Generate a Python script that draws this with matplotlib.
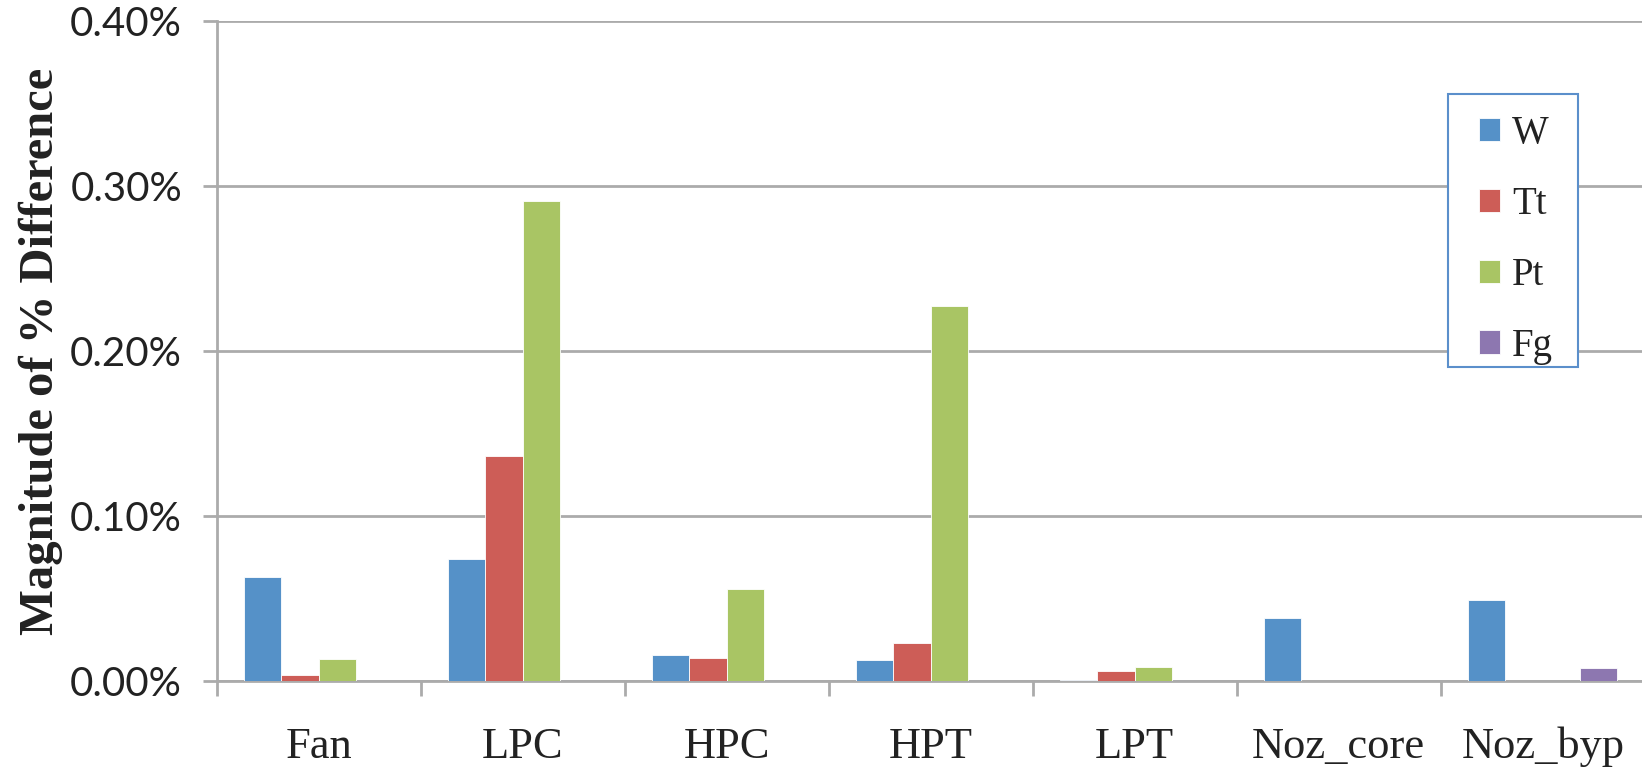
import matplotlib
matplotlib.use("Agg")
import matplotlib.pyplot as plt
import numpy as np
from matplotlib.patches import Rectangle
from matplotlib.ticker import FuncFormatter

# values are % difference magnitudes
categories = ["Fan", "LPC", "HPC", "HPT", "LPT", "Noz_core", "Noz_byp"]
series_names = ["W", "Tt", "Pt", "Fg"]
w_vals = [0.063, 0.0736, 0.0156, 0.0125, 0.0005, 0.038, 0.049]
tt_vals = [0.0035, 0.136, 0.014, 0.023, 0.006, 0.0, 0.0]
pt_vals = [0.013, 0.291, 0.0558, 0.227, 0.0085, 0.0, 0.0]
fg_vals = [0.0, 0.0, 0.0, 0.0, 0.0, 0.0, 0.0075]
y_ticks = [0.0, 0.1, 0.2, 0.3, 0.4]

colors = ["#5591C8", "#CD5D57", "#A9C564", "#8D77B0"]
grid_col = "#ABABAB"
W, H = 1642, 768

fig = plt.figure(figsize=(W / 100, H / 100), dpi=100)
ax = fig.add_axes([216.8 / W, 1 - 680.7 / H, 1428 / W, (680.7 - 21) / H])

x = np.arange(len(categories))
width = 0.183
all_vals = [w_vals, tt_vals, pt_vals, fg_vals]
for i, (name, vals) in enumerate(zip(series_names, all_vals)):
    ax.bar(x + (i - 1.5) * width, vals, width, color=colors[i], label=name,
           edgecolor="white", linewidth=0.6, zorder=3)

ax.set_xlim(-0.5, len(categories) - 0.5)
ax.set_ylim(0, 0.4)
ax.set_yticks(y_ticks)
ax.yaxis.set_major_formatter(FuncFormatter(lambda v, p: f"{v:.2f}%"))
ax.grid(axis="y", color=grid_col, linewidth=2, zorder=0)
ax.set_axisbelow(True)

# category ticks sit between groups, labels at group centres
ax.set_xticks(np.arange(len(categories) + 1) - 0.5)
ax.set_xticklabels([])
ax.set_xticks(x, minor=True)
ax.set_xticklabels(categories, minor=True, fontfamily="Liberation Serif", fontsize=32)
ax.tick_params(axis="x", which="minor", length=0, pad=33, colors="#222222")
ax.tick_params(axis="x", which="major", length=11, width=2, color=grid_col)
ax.tick_params(axis="y", length=10, width=2, color=grid_col, pad=15)
for lab in ax.get_yticklabels():
    lab.set_fontfamily("Lato")
    lab.set_fontsize(29)
    lab.set_color("#222222")

for s in ["top", "right"]:
    ax.spines[s].set_visible(False)
for s in ["left", "bottom"]:
    ax.spines[s].set_color(grid_col)
    ax.spines[s].set_linewidth(2)

fig.text(41 / W, 1 - 351 / H, "Magnitude of % Difference", rotation=90,
         ha="center", va="center", fontfamily="Liberation Serif",
         fontweight="bold", fontsize=35, color="#222222")

# legend box drawn separately so the side padding can be wider than the top
box = Rectangle((1448 / W, 1 - 367 / H), 130 / W, 273 / H,
                transform=fig.transFigure, facecolor="white",
                edgecolor="#5B8FCB", linewidth=1.5, zorder=4, clip_on=False)
ax.add_patch(box)
leg = ax.legend(loc="center", bbox_to_anchor=(1516 / W, 1 - 240 / H),
                bbox_transform=fig.transFigure, frameon=False,
                prop={"family": "Liberation Serif", "size": 28},
                handlelength=0.54, handleheight=0.54, handletextpad=0.3,
                labelspacing=0.87, borderpad=0, borderaxespad=0)
leg.set_zorder(5)
for t in leg.get_texts():
    t.set_color("#222222")

fig.savefig("out.png", dpi=100)
